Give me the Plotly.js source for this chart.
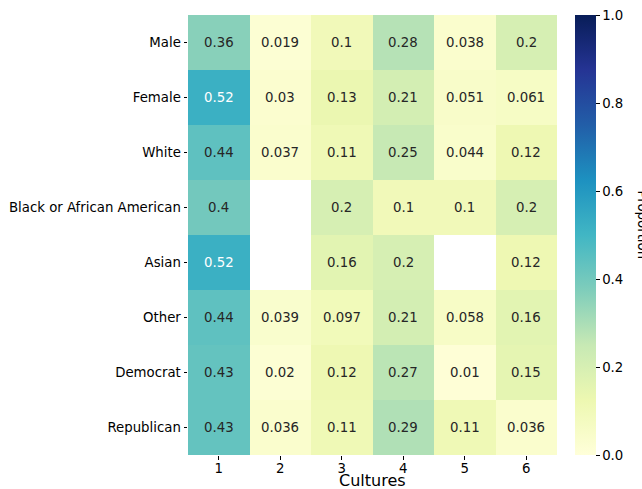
<!DOCTYPE html>
<html><head><meta charset="utf-8">
<script src="https://cdn.plot.ly/plotly-3.0.1.min.js"></script>
<style>body{margin:0;padding:0;background:#fff}#chart{width:642px;height:489px}</style>
</head><body><div id="chart"></div>
<script>
const groups = ["Male","Female","White","Black or African American","Asian","Other","Democrat","Republican"];
const cultures = ["1","2","3","4","5","6"];
const male = [0.36,0.019,0.1,0.28,0.038,0.2];
const female = [0.52,0.03,0.13,0.21,0.051,0.061];
const white = [0.44,0.037,0.11,0.25,0.044,0.12];
const black = [0.4,null,0.2,0.1,0.1,0.2];
const asian = [0.52,null,0.16,0.2,null,0.12];
const other = [0.44,0.039,0.097,0.21,0.058,0.16];
const democrat = [0.43,0.02,0.12,0.27,0.01,0.15];
const republican = [0.43,0.036,0.11,0.29,0.11,0.036];
const z = [male,female,white,black,asian,other,democrat,republican];

const ylgnbu = [[0,'#ffffd9'],[0.125,'#edf8b1'],[0.25,'#c7e9b4'],[0.375,'#7fcdbb'],[0.5,'#41b6c4'],[0.625,'#1d91c0'],[0.75,'#225ea8'],[0.875,'#253494'],[1,'#081d58']];

const W=642,H=489,L=188,R=557,T=15,B=455;
const FONT="DejaVu Sans, sans-serif";
const annotations=[];
z.forEach((row,i)=>row.forEach((v,j)=>{
  if(v===null) return;
  annotations.push({x:j,y:i,xref:'x',yref:'y',text:String(v),showarrow:false,
    font:{family:FONT,size:13.3,color:v>0.5?'#ffffff':'#262626'}});
}));
annotations.push({xref:'paper',yref:'paper',x:(633-L)/(R-L),xanchor:'left',y:(B-225)/(B-T),yanchor:'middle',
  text:'Proportion',textangle:90,showarrow:false,font:{family:FONT,size:13.3,color:'#000'}});
annotations.push({xref:'paper',yref:'paper',x:0.5,xanchor:'center',y:(B-480.5)/(B-T),yanchor:'middle',
  text:'Cultures',showarrow:false,font:{family:FONT,size:16,color:'#000'}});

const trace={type:'heatmap',z:z,x:cultures,y:groups,zmin:0,zmax:1,colorscale:ylgnbu,hoverongaps:false,xgap:0,ygap:0,
  colorbar:{thickness:21,thicknessmode:'pixels',len:B-T,lenmode:'pixels',x:(575-L)/(R-L),xanchor:'left',xpad:0,
    y:0.5,yanchor:'middle',ypad:0,outlinewidth:0,ticks:'outside',ticklen:4,tickwidth:1,tickcolor:'#000',
    tickvals:[0,0.2,0.4,0.6,0.8,1.0],ticktext:['0.0','0.2','0.4','0.6','0.8','1.0'],
    tickfont:{family:FONT,size:13.3,color:'#000'}}};

const layout={width:W,height:H,margin:{l:L,r:W-R,t:T,b:H-B,pad:0},paper_bgcolor:'#fff',plot_bgcolor:'#fff',
  font:{family:FONT,color:'#000'},
  xaxis:{type:'category',range:[-0.5,5.5],showgrid:false,zeroline:false,ticks:'outside',ticklen:3.5,tickcolor:'#000',
    ticklabelstandoff:-2,tickfont:{family:FONT,size:13.3,color:'#000'}},
  yaxis:{type:'category',range:[7.5,-0.5],showgrid:false,zeroline:false,ticks:'outside',ticklen:3.5,tickcolor:'#000',
    tickfont:{family:FONT,size:13.3,color:'#000'}},
  annotations:annotations};
Plotly.newPlot('chart',[trace],layout,{displayModeBar:false,staticPlot:true});
</script></body></html>
